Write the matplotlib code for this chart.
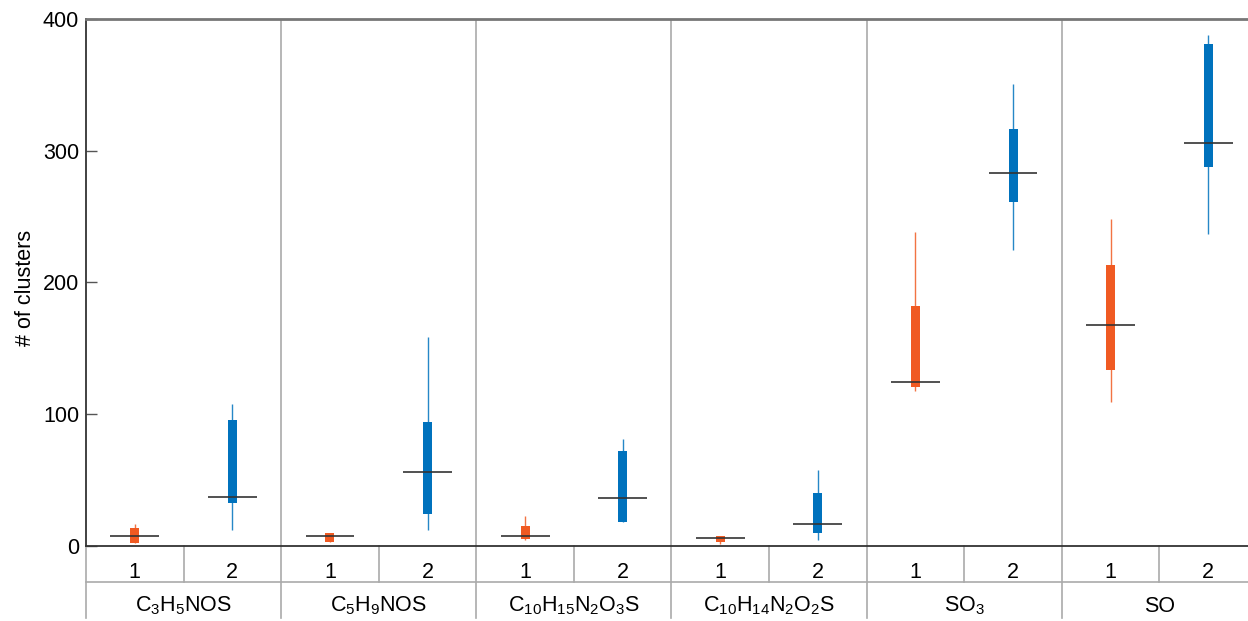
import numpy as np
import matplotlib

matplotlib.use("Agg")
import matplotlib.pyplot as plt
import matplotlib.transforms as mtransforms

plt.rcParams['font.family'] = ['Liberation Sans', 'DejaVu Sans']
plt.rcParams['mathtext.fontset'] = 'custom'
plt.rcParams['mathtext.rm'] = 'Liberation Sans'
plt.rcParams['mathtext.it'] = 'Liberation Sans:italic'

# Data.
groups = [r'C$_3$H$_5$NOS', r'C$_5$H$_9$NOS', r'C$_{10}$H$_{15}$N$_2$O$_3$S',
          r'C$_{10}$H$_{14}$N$_2$O$_2$S', r'SO$_3$', 'SO']
sub_labels = ['1', '2']

s1_lo = [2.0, 2.8, 4.5, 1.8, 117.7, 109.3]
s1_q1 = [2.5, 2.8, 5.1, 2.8, 120.7, 133.3]
s1_med = [7.3, 7.3, 7.3, 6.1, 124.5, 168.0]
s1_q3 = [13.9, 10.1, 15.4, 7.8, 182.0, 212.9]
s1_hi = [16.7, 10.1, 22.7, 7.8, 238.1, 248.2]

s2_lo = [12.1, 12.1, 18.2, 4.3, 225.0, 236.9]
s2_q1 = [32.3, 24.2, 18.2, 9.6, 261.4, 287.6]
s2_med = [37.4, 55.8, 36.6, 16.4, 283.3, 305.8]
s2_q3 = [96.0, 94.2, 72.0, 40.0, 316.4, 380.8]
s2_hi = [108.0, 159.0, 81.0, 58.0, 351.0, 388.0]

colors = ['#F05A22', '#0072BD']

fig = plt.figure(figsize=(12.48, 6.21), dpi=100)
ax = fig.add_axes([0.0689, 0.1208, 0.9383, 0.8486])

n = len(groups)
centers = np.arange(n)
offsets = [-0.25, 0.25]
series = [
    (s1_lo, s1_q1, s1_med, s1_q3, s1_hi),
    (s2_lo, s2_q1, s2_med, s2_q3, s2_hi),
]

# Group boundaries.
for b in np.arange(n - 1) + 0.5:
    ax.axvline(b, color='#AAAAAA', lw=1.2, zorder=0)

for (lo, q1, med, q3, hi), off, col in zip(series, offsets, colors):
    x = centers + off
    lo, q1, med, q3, hi = map(np.asarray, (lo, q1, med, q3, hi))
    ax.vlines(x, lo, hi, color=col, lw=1.0, alpha=0.85, zorder=2)
    ax.bar(x, q3 - q1, bottom=q1, width=0.046, color=col, zorder=3)
    ax.hlines(med, x - 0.125, x + 0.125, color='#333333', lw=1.4, alpha=0.85, zorder=4)

ax.set_xlim(-0.5, n - 0.5)
ax.set_ylim(0, 400)
ax.set_xticks([])
ax.set_yticks([0, 100, 200, 300, 400])
ax.tick_params(axis='y', direction='in', length=8, width=1, color='#555555',
               labelsize=15.5, pad=5)
ax.set_ylabel('# of clusters', fontsize=15.5)
ax.yaxis.set_label_coords(-0.043, 0.49)

for side in ['left', 'bottom']:
    ax.spines[side].set_color('#333333')
    ax.spines[side].set_linewidth(1.3)
ax.spines['top'].set_color('#777777')
ax.spines['top'].set_linewidth(2)
ax.spines['right'].set_visible(False)

# Category rows under the axis.
trans = mtransforms.blended_transform_factory(ax.transData, ax.transAxes)
row1 = -0.0683
row2 = -0.137
for b in np.arange(n + 1) - 0.5:
    ax.plot([b, b], [0, row2], color='#AAAAAA', lw=1.2, transform=trans, clip_on=False)
for c in centers:
    ax.plot([c, c], [0, row1], color='#AAAAAA', lw=1.2, transform=trans, clip_on=False)
ax.plot([-0.5, n - 0.5], [row1, row1], color='#AAAAAA', lw=1.2, transform=trans, clip_on=False)

for c, g in zip(centers, groups):
    for off, s in zip(offsets, sub_labels):
        ax.text(c + off, -0.0613, s, transform=trans, ha='center', va='baseline',
                fontsize=15.5)
    ax.text(c, -0.1245, g, transform=trans, ha='center', va='baseline', fontsize=15.5)

fig.savefig("out.png", dpi=100)
